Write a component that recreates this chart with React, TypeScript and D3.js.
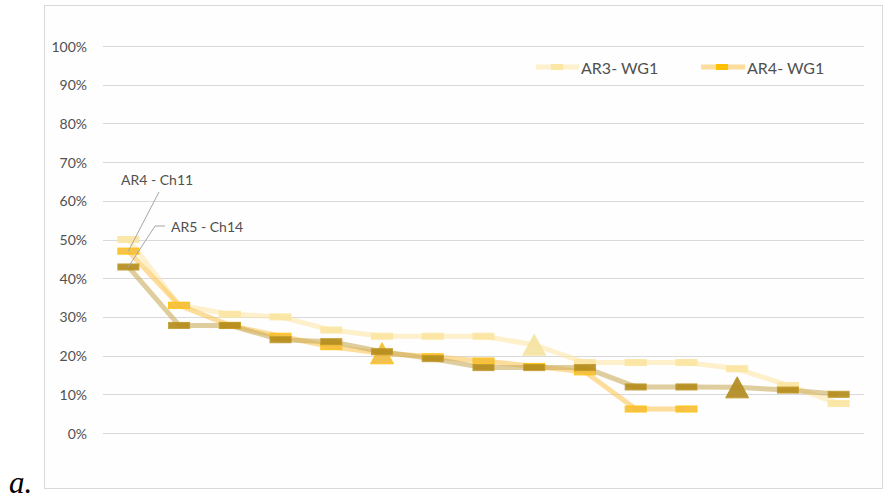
import * as d3 from 'd3'

// 15 ranked positions, no visible x labels
const categories = d3.range(1, 16).map(String)

const ar3 = [50, 33, 30.7, 30, 26.6, 25, 25, 25, 22.8, 18.2, 18.2, 18.2, 16.6, 12.3, 7.6]
const ar4 = [47, 33, 27.8, 25, 22.3, 20.6, 19.7, 18.6, 17.2, 15.8, 6.2, 6.2, null, null, null]
const ar5 = [42.9, 27.8, 27.8, 24.1, 23.6, 21, 19.2, 16.9, 16.9, 16.9, 11.9, 11.9, 11.8, 11.1, 10]

// index of the point drawn as a triangle in each series
const ar3Tri = 8
const ar4Tri = 5
const ar5Tri = 12

const yTicks = [0, 10, 20, 30, 40, 50, 60, 70, 80, 90, 100]

const W = 885
const H = 500
const FONT = 'Lato, "Open Sans", sans-serif'

const x = d3.scalePoint<string>().domain(categories).range([103, 864]).padding(0.5)
const y = d3.scaleLinear().domain([0, 100]).range([433, 46])

type Series = {
  values: (number | null)[]
  tri: number
  line: string
  lineOpacity: number
  fill: string
  stroke: string
  triFill: string
  triStroke: string
}

const series: Series[] = [
  { values: ar3, tri: ar3Tri, line: '#fbe6a6', lineOpacity: 0.6, fill: '#fbe6a3', stroke: '#fbe6a3', triFill: '#f6e3a1', triStroke: '#f8e6a8' },
  { values: ar4, tri: ar4Tri, line: '#fcc65a', lineOpacity: 0.6, fill: '#f6bf3c', stroke: '#ffc000', triFill: '#f0bb45', triStroke: '#ffc000' },
  { values: ar5, tri: ar5Tri, line: '#c9ab5c', lineOpacity: 0.6, fill: '#b68d1e', stroke: '#bf9828', triFill: '#b38b22', triStroke: '#b8901f' },
]

const lineGen = d3.line<number | null>()
  .defined((d) => d != null)
  .x((_, i) => x(categories[i]) ?? 0)
  .y((d) => y(d as number))

function Marker({ cx, cy, s, tri }: { cx: number; cy: number; s: Series; tri: boolean }) {
  if (tri) {
    const h = 21, w = 23
    return (
      <path
        d={`M${cx},${cy - h / 2} L${cx + w / 2},${cy + h / 2} L${cx - w / 2},${cy + h / 2} Z`}
        fill={s.triFill}
        stroke={s.triStroke}
        strokeWidth={1}
      />
    )
  }
  return <rect x={cx - 10.5} y={cy - 3} width={21} height={6} fill={s.fill} stroke={s.stroke} strokeWidth={1} />
}

export default function App() {
  const txt = '#505050'
  return (
    <svg width={W} height={H} style={{ position: 'absolute', left: 0, top: 0, background: '#fff' }}>
      <rect x={44.5} y={5.5} width={838} height={483} fill="#fefefe" stroke="#d9d9d9" strokeWidth={1} />

      {/* grid + y labels */}
      {yTicks.map((t) => (
        <g key={t}>
          <line x1={103} x2={864} y1={Math.round(y(t)) + 0.5} y2={Math.round(y(t)) + 0.5} stroke="#d9d9d9" strokeWidth={1} />
          <text x={87} y={y(t)} textAnchor="end" dominantBaseline="central"
            style={{ fontSize: 14, fill: txt, fontFamily: FONT }}>
            {t}%
          </text>
        </g>
      ))}

      {/* lines */}
      {series.map((s, k) => (
        <path key={'l' + k} d={lineGen(s.values) ?? ''} fill="none" stroke={s.line}
          strokeOpacity={s.lineOpacity} strokeWidth={5} strokeLinejoin="round" />
      ))}

      {/* markers */}
      {series.map((s, k) => (
        <g key={'m' + k} opacity={0.92}>
          {s.values.map((v, i) => v == null ? null : (
            <Marker key={i} cx={x(categories[i]) ?? 0} cy={y(v)} s={s} tri={i === s.tri} />
          ))}
        </g>
      ))}

      {/* annotations */}
      <line x1={159} y1={192} x2={x(categories[0])} y2={y(ar4[0] as number)} stroke="#a6a6a6" strokeWidth={1} />
      <text x={121} y={179} dominantBaseline="central" style={{ fontSize: 14, fill: txt, fontFamily: FONT }}>AR4 - Ch11</text>
      <polyline points={`165,226 155,226 ${x(categories[0])},${y(ar5[0])}`} fill="none" stroke="#a6a6a6" strokeWidth={1} />
      <text x={171} y={226} dominantBaseline="central" style={{ fontSize: 14, fill: txt, fontFamily: FONT }}>AR5 - Ch14</text>

      {/* legend */}
      <line x1={536} x2={579} y1={67} y2={67} stroke={series[0].line} strokeOpacity={0.6} strokeWidth={5} />
      <rect x={551} y={64} width={12} height={6} fill={series[0].fill} />
      <text x={581} y={67} dominantBaseline="central" style={{ fontSize: 16, fill: txt, fontFamily: FONT }}>AR3- WG1</text>
      <line x1={701} x2={745} y1={67} y2={67} stroke={series[1].line} strokeOpacity={0.6} strokeWidth={5} />
      <rect x={716} y={64} width={12} height={6} fill={series[1].stroke} />
      <text x={747} y={67} dominantBaseline="central" style={{ fontSize: 16, fill: txt, fontFamily: FONT }}>AR4- WG1</text>

      <text x={9} y={493} style={{ fontSize: 31, fontStyle: 'italic', fontFamily: '"Liberation Serif", "DejaVu Serif", serif', fill: '#000' }}>a.</text>
    </svg>
  )
}
